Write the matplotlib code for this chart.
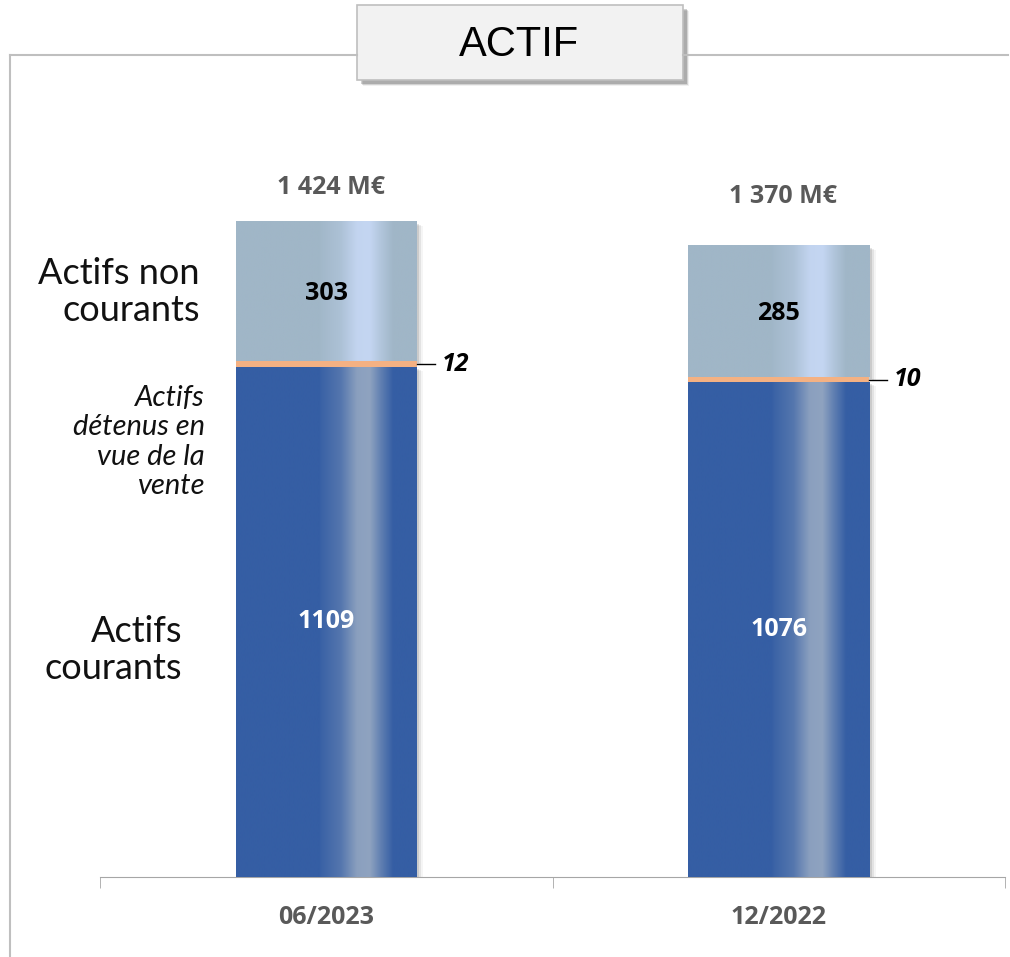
import numpy as np
import matplotlib
matplotlib.use("Agg")
import matplotlib.pyplot as plt
from matplotlib.patches import Rectangle
from matplotlib.lines import Line2D

# ----------------------------
# Data
# ----------------------------
periods = ["06/2023", "12/2022"]
actifs_courants = [1109, 1076]
actifs_vente = [12, 10]
actifs_non_courants = [303, 285]
total_labels = ["1 424 M€", "1 370 M€"]

# ----------------------------
# Style
# ----------------------------
W, H = 1010, 957
DARK = np.array([53, 94, 164]) / 255
DARK_HI = np.array([143, 163, 192]) / 255
LIGHT = np.array([160, 182, 199]) / 255
LIGHT_HI = np.array([196, 214, 242]) / 255
ORANGE = "#F4B183"
GREY_TXT = "#595959"
LINE_GREY = "#BFBFBF"
NUM_FONT = ["Open Sans", "DejaVu Sans"]
LBL_FONT = ["Lato", "DejaVu Sans"]
total_offset = [76, 108]  # label gap above each bar (data units)

fig = plt.figure(figsize=(W / 100, H / 100), dpi=100)
fig.patch.set_facecolor("white")


def fx(px):
    return px / W


def fy(py):
    return 1 - py / H


ax = fig.add_axes([fx(100), fy(877), fx(1005) - fx(100), fy(130) - fy(877)])
x = np.arange(len(periods))
bar_w = 0.40


def gradient(base, hi, n=300):
    t = np.linspace(0, 1, n)
    pos = [0.0, 0.46, 0.47, 0.58, 0.67, 0.74, 0.80, 0.87, 1.0]
    amt = [0.0, 0.0, 0.06, 0.35, 0.95, 1.0, 0.5, 0.0, 0.0]
    a = np.interp(t, pos, amt)[:, None]
    row = base[None, :] * (1 - a) + hi[None, :] * a
    return row[None, :, :]


def shaded(bars, base, hi):
    for b in bars:
        x0, y0 = b.get_x(), b.get_y()
        w, h = b.get_width(), b.get_height()
        # soft shadow on the right / bottom
        for k, al in enumerate([0.10, 0.07, 0.04]):
            ax.add_patch(Rectangle((x0 + 0.006 + 0.004 * k, y0 - 4 - 2 * k), w, h,
                                   color="black", alpha=al, lw=0, zorder=1))
        ax.imshow(gradient(base, hi), extent=(x0, x0 + w, y0, y0 + h),
                  aspect="auto", interpolation="bilinear", zorder=3)


b1 = ax.bar(x, actifs_courants, bar_w, color=DARK, zorder=2)
b2 = ax.bar(x, actifs_vente, bar_w, bottom=actifs_courants, color=ORANGE, zorder=4)
bottoms3 = [a + b for a, b in zip(actifs_courants, actifs_vente)]
b3 = ax.bar(x, actifs_non_courants, bar_w, bottom=bottoms3, color=LIGHT, zorder=2)
shaded(b1, DARK, DARK_HI)
shaded(b3, LIGHT, LIGHT_HI)

ax.set_xlim(-0.5, 1.5)
ax.set_ylim(0, 1624)

# value labels
for i in range(len(periods)):
    ax.text(x[i], actifs_courants[i] / 2, str(actifs_courants[i]), ha="center",
            va="center", color="white", fontsize=18, fontweight="bold",
            family=NUM_FONT, zorder=6)
    ax.text(x[i], bottoms3[i] + actifs_non_courants[i] / 2 - 4,
            str(actifs_non_courants[i]), ha="center", va="center", color="black",
            fontsize=18, fontweight="bold", family=NUM_FONT, zorder=6)
    yv = actifs_courants[i] + actifs_vente[i] / 2
    ax.plot([x[i] + bar_w / 2, x[i] + bar_w / 2 + 0.04], [yv, yv], color="black",
            lw=1, zorder=6, clip_on=False)
    ax.text(x[i] + bar_w / 2 + 0.055, yv, str(actifs_vente[i]), ha="left", va="center",
            color="black", fontsize=18, fontweight="bold", style="italic",
            family=NUM_FONT, zorder=6)
    total = bottoms3[i] + actifs_non_courants[i]
    ax.text(x[i] + 0.01, total + total_offset[i], total_labels[i], ha="center",
            va="center", color=GREY_TXT, fontsize=18, fontweight="bold",
            family=NUM_FONT)

# axis styling
for s in ["top", "right", "left"]:
    ax.spines[s].set_visible(False)
ax.spines["bottom"].set_color("#A6A6A6")
ax.set_yticks([])
ax.set_xticks(x)
ax.set_xticklabels(periods, color=GREY_TXT, fontsize=18, fontweight="bold",
                   family=NUM_FONT)
ax.tick_params(axis="x", which="major", length=0, pad=20)
ax.set_xticks([-0.5, 0.5, 1.5], minor=True)
ax.tick_params(axis="x", which="minor", length=8, color="#A6A6A6", direction="out")
ax.set_facecolor("none")

# left side labels
fig.text(fx(200), fy(292), "Actifs non\ncourants", ha="right", va="center",
         fontsize=26, family=LBL_FONT, color="#111111", linespacing=1.15)
fig.text(fx(205), fy(442), "Actifs\ndétenus en\nvue de la\nvente", ha="right",
         va="center", fontsize=21, family=LBL_FONT, style="italic",
         color="#111111", linespacing=1.15)
fig.text(fx(182), fy(650), "Actifs\ncourants", ha="right", va="center",
         fontsize=26, family=LBL_FONT, color="#111111", linespacing=1.15)

# outer frame lines
fig.add_artist(Line2D([fx(10), fx(357)], [fy(55), fy(55)], color=LINE_GREY, lw=1.5))
fig.add_artist(Line2D([fx(683), fx(1008)], [fy(55), fy(55)], color=LINE_GREY, lw=1.5))
fig.add_artist(Line2D([fx(10), fx(10)], [fy(55), fy(957)], color=LINE_GREY, lw=1.5))

# title box
for k, al in enumerate([0.18, 0.12, 0.06]):
    fig.add_artist(Rectangle((fx(361 + k), fy(84 + k)), fx(326), fy(5) - fy(80),
                             transform=fig.transFigure, color="black", alpha=al,
                             lw=0))
fig.add_artist(Rectangle((fx(357), fy(80)), fx(326), fy(5) - fy(80),
                         transform=fig.transFigure, facecolor="#F2F2F2",
                         edgecolor="#BFBFBF", lw=1.2))
fig.text(fx(519), fy(45), "ACTIF", ha="center", va="center", fontsize=30,
         family=["Liberation Sans", "DejaVu Sans"], color="black")

plt.savefig("out.png", dpi=100)
